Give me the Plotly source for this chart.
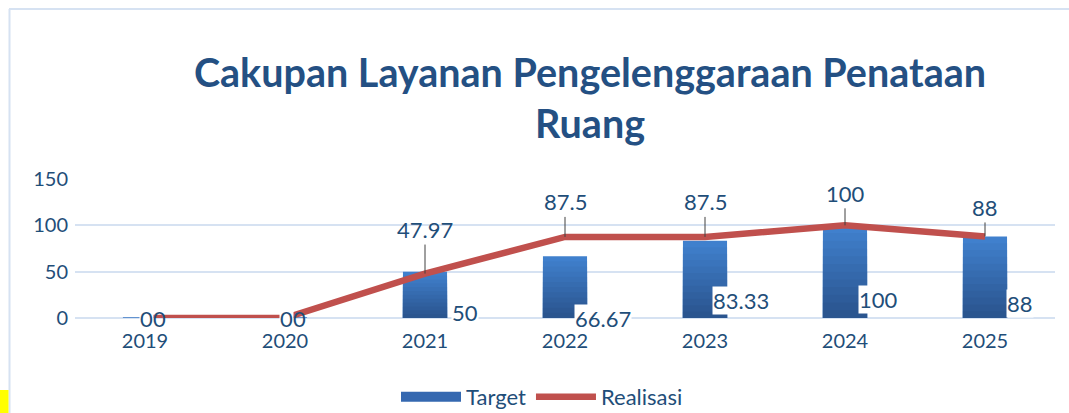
import plotly.graph_objects as go

years = ["2019", "2020", "2021", "2022", "2023", "2024", "2025"]
target = [0, 0, 50, 66.67, 83.33, 100, 88]
realisasi = [0, 0, 47.97, 87.5, 87.5, 100, 88]
target_labels = ["0", "0", "50", "66.67", "83.33", "100", "88"]
realisasi_labels = ["0", "0", "47.97", "87.5", "87.5", "100", "88"]
y_ticks = [0, 50, 100, 150]

# label styling (pixel offsets)
t_xshift = [1, 1, 40, 38, 36, 33, 35]
t_yshift = [0, 0, 6, 0, 18, 19, 15]
r_ay = [0, 0, -44, -35, -35, -32, -29]
bar_outline = [1, 1, 0, 0, 0, 0, 0]

W, H = 1069, 413
L, R, T, B = 75, 14, 179, 95
TXT = "#1F4E79"
LBL = 22

fig = go.Figure()

# gradient bars built from overlaid fractions
n = 12
top_c = (0x40, 0x80, 0xCD)
bot_c = (0x2A, 0x55, 0x8F)
for k in range(n, 0, -1):
    f = k / n
    t = (k - 1) / (n - 1)
    c = tuple(int(bot_c[i] + (top_c[i] - bot_c[i]) * t) for i in range(3))
    line = dict(width=bar_outline, color="#3D78C4") if k == n else dict(width=0)
    fig.add_trace(go.Bar(
        x=years, y=[v * f for v in target],
        name="Target", showlegend=False,
        marker=dict(color="rgb(%d,%d,%d)" % c, line=line),
        width=0.315, hoverinfo="skip",
    ))

# legend proxy for the bar series (wide rectangle symbol)
fig.add_trace(go.Scatter(
    x=[None], y=[None], mode="lines", name="Target",
    line=dict(color="#3568B0", width=10),
))

fig.add_trace(go.Scatter(
    x=years, y=realisasi, mode="lines", name="Realisasi",
    line=dict(color="#C0504D", width=6.5),
))

ann = []
for i, yv in enumerate(years):
    ann.append(dict(x=i, y=0, xref="x", yref="y", text=target_labels[i],
                    showarrow=False, xshift=t_xshift[i], yshift=t_yshift[i],
                    font=dict(size=LBL, color=TXT, family="Lato"),
                    bgcolor="white", borderpad=0))
for i, yv in enumerate(years):
    if r_ay[i] == 0:
        ann.append(dict(x=i, y=realisasi[i], xref="x", yref="y",
                        text=realisasi_labels[i], showarrow=False, xshift=14,
                        font=dict(size=LBL, color=TXT, family="Lato")))
    else:
        ann.append(dict(x=i, y=realisasi[i], xref="x", yref="y",
                        text=realisasi_labels[i], showarrow=True, ax=0, ay=r_ay[i],
                        arrowhead=0, arrowwidth=1, arrowcolor="#404040",
                        font=dict(size=LBL, color=TXT, family="Lato")))

pw = W - L - R
ph = H - T - B
def px_x(p):
    return (p - L) / pw
def px_y(p):
    return (H - B - p) / ph

shapes = [
    dict(type="line", xref="paper", yref="paper", x0=px_x(9), x1=px_x(1069),
         y0=px_y(9), y1=px_y(9), line=dict(color="#D6E2F2", width=2)),
    dict(type="line", xref="paper", yref="paper", x0=px_x(9.5), x1=px_x(9.5),
         y0=px_y(9), y1=px_y(413), line=dict(color="#D6E2F2", width=2)),
    dict(type="rect", xref="paper", yref="paper", x0=px_x(0), x1=px_x(8.5),
         y0=px_y(390), y1=px_y(413), fillcolor="#FFFF00", line=dict(width=0)),
]

fig.update_layout(
    width=W, height=H,
    margin=dict(l=L, r=R, t=T, b=B, pad=0),
    barmode="overlay",
    paper_bgcolor="white", plot_bgcolor="white",
    font=dict(family="Lato", color=TXT, size=20),
    title=dict(text="<b>Cakupan Layanan Pengelenggaraan Penataan<br>Ruang</b>",
               x=590 / W, xanchor="center", xref="container",
               y=1 - 87 / H, yanchor="top", yref="container",
               font=dict(size=39.5, color="#245083", family="Lato")),
    xaxis=dict(type="category", categoryorder="array", categoryarray=years,
               range=[-0.5, len(years) - 0.5], autorange=False,
               showgrid=False, showline=False, ticks="",
               ticklabelstandoff=9,
               zeroline=False, tickfont=dict(size=20, color=TXT)),
    yaxis=dict(range=[0, 150], tickvals=y_ticks, showgrid=True,
               gridcolor="#D6E2F2", gridwidth=2, zeroline=True,
               zerolinecolor="#D6E2F2", zerolinewidth=2, showline=False,
               ticks="", ticklabelstandoff=6,
               tickfont=dict(size=20, color=TXT)),
    legend=dict(orientation="h", x=542 / W, xanchor="center", xref="container",
                y=16 / H, yanchor="middle", yref="container",
                font=dict(size=22, color=TXT), itemwidth=60),
    annotations=ann,
    shapes=shapes,
    showlegend=True,
)

fig.write_html("out.html", config={"displayModeBar": False},
               post_script="document.body.style.margin='0';")
